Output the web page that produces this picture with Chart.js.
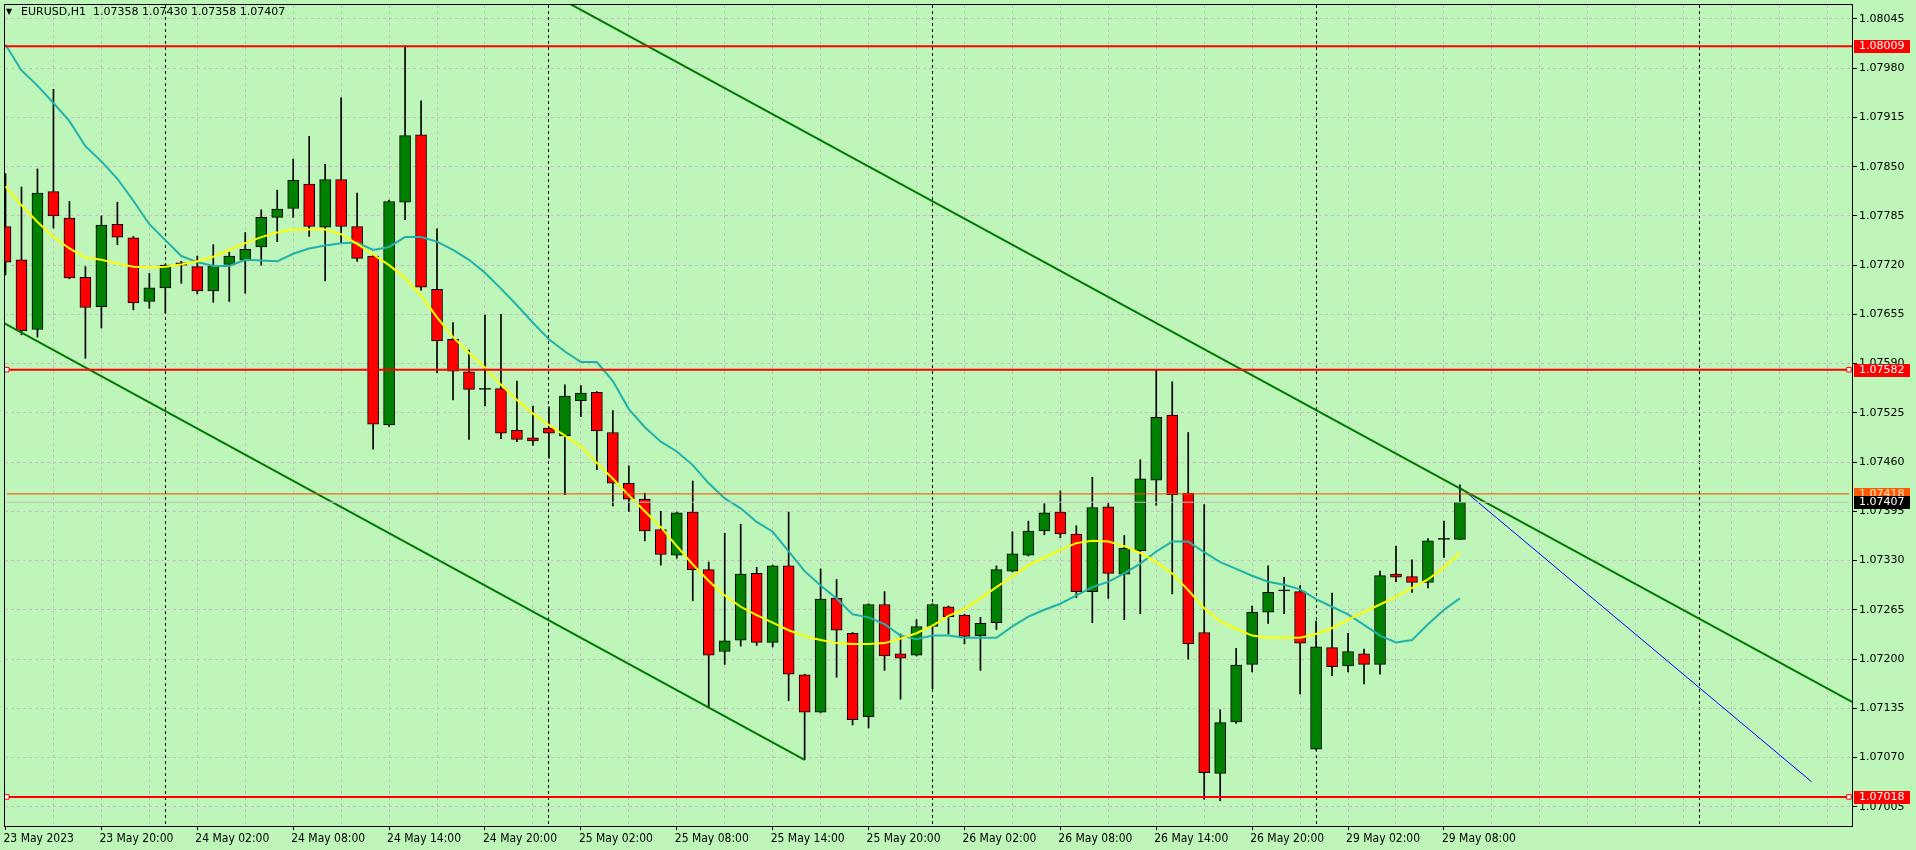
<!DOCTYPE html>
<html><head><meta charset="utf-8">
<script src="https://cdn.jsdelivr.net/npm/chart.js@4.4.0/dist/chart.umd.min.js"></script>
<style>html,body{margin:0;padding:0;background:#BEF5B9;overflow:hidden}</style>
</head><body>
<canvas id="c" width="1916" height="850"></canvas>
<script>
// ---- data (EURUSD H1, bar 0 = 23 May 2023 14:00) ----
const barIdx = Array.from({length: 92}, (_, i) => i);
const openP = [1.07771,1.07727,1.07635,1.07817,1.07782,1.07704,1.07665,1.07774,1.07756,1.07672,1.07690,1.07723,1.07718,1.07686,1.07721,1.07727,1.07744,1.07783,1.07795,1.07827,1.07770,1.07833,1.07771,1.07732,1.07509,1.07803,1.07892,1.07688,1.07622,1.07579,1.07556,1.07557,1.07502,1.07492,1.07505,1.07495,1.07541,1.07552,1.07499,1.07432,1.07411,1.07371,1.07337,1.07394,1.07318,1.07210,1.07225,1.07313,1.07222,1.07323,1.07179,1.07130,1.07280,1.07234,1.07124,1.07272,1.07207,1.07205,1.07243,1.07269,1.07258,1.07231,1.07248,1.07316,1.07337,1.07369,1.07394,1.07365,1.07289,1.07401,1.07312,1.07343,1.07436,1.07522,1.07419,1.07235,1.07049,1.07117,1.07193,1.07262,1.07290,1.07289,1.07081,1.07215,1.07191,1.07207,1.07193,1.07312,1.07309,1.07301,1.07358,1.07358];
const highP = [1.07841,1.07823,1.07847,1.07952,1.07804,1.07718,1.07785,1.07803,1.07758,1.07709,1.07721,1.07725,1.07732,1.07747,1.07737,1.07763,1.07793,1.07819,1.07860,1.07890,1.07853,1.07941,1.07815,1.07733,1.07806,1.08009,1.07937,1.07768,1.07644,1.07608,1.07654,1.07655,1.07567,1.07534,1.07533,1.07562,1.07561,1.07553,1.07528,1.07455,1.07419,1.07395,1.07394,1.07435,1.07328,1.07366,1.07378,1.07321,1.07324,1.07394,1.07180,1.07319,1.07305,1.07235,1.07273,1.07289,1.07233,1.07252,1.07273,1.07270,1.07259,1.07255,1.07323,1.07368,1.07382,1.07405,1.07422,1.07376,1.07440,1.07406,1.07363,1.07463,1.07582,1.07566,1.07499,1.07404,1.07133,1.07214,1.07270,1.07323,1.07308,1.07297,1.07250,1.07287,1.07234,1.07213,1.07316,1.07349,1.07331,1.07359,1.07382,1.07430];
const lowP = [1.07707,1.07628,1.07625,1.07769,1.07702,1.07597,1.07637,1.07747,1.07661,1.07663,1.07657,1.07696,1.07682,1.07671,1.07672,1.07683,1.07720,1.07751,1.07783,1.07758,1.07699,1.07749,1.07725,1.07477,1.07507,1.07780,1.07687,1.07578,1.07542,1.07490,1.07534,1.07491,1.07487,1.07482,1.07465,1.07417,1.07520,1.07450,1.07402,1.07395,1.07356,1.07324,1.07333,1.07277,1.07136,1.07193,1.07217,1.07218,1.07216,1.07145,1.07067,1.07129,1.07176,1.07113,1.07109,1.07185,1.07147,1.07204,1.07161,1.07233,1.07220,1.07185,1.07239,1.07315,1.07336,1.07364,1.07360,1.07281,1.07248,1.07280,1.07252,1.07260,1.07403,1.07286,1.07200,1.07015,1.07013,1.07115,1.07183,1.07247,1.07260,1.07154,1.07080,1.07178,1.07183,1.07167,1.07180,1.07302,1.07288,1.07294,1.07334,1.07358];
const closeP = [1.07724,1.07633,1.07815,1.07785,1.07703,1.07664,1.07773,1.07757,1.07670,1.07690,1.07720,1.07720,1.07686,1.07719,1.07732,1.07741,1.07783,1.07794,1.07832,1.07771,1.07833,1.07771,1.07729,1.07510,1.07804,1.07891,1.07691,1.07620,1.07580,1.07556,1.07556,1.07498,1.07490,1.07488,1.07498,1.07547,1.07551,1.07501,1.07432,1.07411,1.07369,1.07338,1.07393,1.07318,1.07205,1.07224,1.07312,1.07222,1.07323,1.07180,1.07130,1.07279,1.07238,1.07120,1.07272,1.07204,1.07201,1.07243,1.07272,1.07256,1.07230,1.07247,1.07318,1.07339,1.07369,1.07393,1.07365,1.07289,1.07400,1.07313,1.07346,1.07438,1.07519,1.07417,1.07220,1.07050,1.07116,1.07192,1.07262,1.07288,1.07290,1.07221,1.07216,1.07190,1.07210,1.07193,1.07310,1.07308,1.07301,1.07356,1.07358,1.07407];
const maFast = [1.07824,1.07799,1.07777,1.07757,1.07742,1.07730,1.07727,1.07722,1.07718,1.07717,1.07718,1.07721,1.07725,1.07731,1.07740,1.07749,1.07757,1.07763,1.07767,1.07767,1.07767,1.07761,1.07748,1.07734,1.07720,1.07703,1.07680,1.07651,1.07625,1.07604,1.07585,1.07562,1.07542,1.07524,1.07509,1.07495,1.07481,1.07459,1.07438,1.07416,1.07395,1.07374,1.07349,1.07325,1.07303,1.07284,1.07269,1.07258,1.07248,1.07238,1.07230,1.07225,1.07221,1.07220,1.07220,1.07221,1.07227,1.07234,1.07244,1.07257,1.07266,1.07280,1.07295,1.07309,1.07324,1.07334,1.07344,1.07353,1.07356,1.07355,1.07349,1.07340,1.07328,1.07313,1.07291,1.07267,1.07250,1.07240,1.07231,1.07228,1.07228,1.07228,1.07233,1.07241,1.07252,1.07262,1.07272,1.07282,1.07294,1.07305,1.07321,1.07340];
const maSlow = [1.08011,1.07977,1.07957,1.07934,1.07910,1.07877,1.07857,1.07834,1.07805,1.07774,1.07753,1.07732,1.07724,1.07719,1.07719,1.07727,1.07726,1.07725,1.07735,1.07742,1.07746,1.07749,1.07750,1.07740,1.07744,1.07757,1.07757,1.07751,1.07740,1.07727,1.07710,1.07689,1.07667,1.07644,1.07622,1.07606,1.07592,1.07592,1.07567,1.07530,1.07506,1.07487,1.07474,1.07456,1.07432,1.07412,1.07399,1.07381,1.07368,1.07342,1.07316,1.07297,1.07280,1.07259,1.07255,1.07246,1.07231,1.07226,1.07231,1.07231,1.07228,1.07228,1.07228,1.07243,1.07256,1.07265,1.07273,1.07284,1.07295,1.07302,1.07313,1.07326,1.07342,1.07355,1.07355,1.07341,1.07328,1.07319,1.07310,1.07302,1.07298,1.07292,1.07279,1.07269,1.07259,1.07245,1.07231,1.07222,1.07225,1.07246,1.07265,1.07280];
// trend lines: [bar index], [price]
const upperTrendX = [34, 116];
const upperTrendP = [1.08080, 1.07138];
const lowerTrendX = [-1, 50];
const lowerTrendP = [1.07654, 1.07067];
const blueLineX = [91, 113];
const blueLineP = [1.07427, 1.07038];
// horizontal levels
const levelValues = [1.08009, 1.07582, 1.07018, 1.07418, 1.07407];
const levelLabels = ['1.08009', '1.07582', '1.07018', '1.07418', '1.07407'];
// axes
const yTicks = [1.08045,1.07980,1.07915,1.07850,1.07785,1.07720,1.07655,1.07590,1.07525,1.07460,1.07395,1.07330,1.07265,1.07200,1.07135,1.07070,1.07005];
const yTickLabels = ['1.08045','1.07980','1.07915','1.07850','1.07785','1.07720','1.07655','1.07590','1.07525','1.07460','1.07395','1.07330','1.07265','1.07200','1.07135','1.07070','1.07005'];
const xTickIdx = [0,6,12,18,24,30,36,42,48,54,60,66,72,78,84,90];
const xTickLabels = ['23 May 2023','23 May 20:00','24 May 02:00','24 May 08:00','24 May 14:00','24 May 20:00','25 May 02:00','25 May 08:00','25 May 14:00','25 May 20:00','26 May 02:00','26 May 08:00','26 May 14:00','26 May 20:00','29 May 02:00','29 May 08:00'];
const daySeparators = [10, 34, 58, 82, 106];
const titleText = 'EURUSD,H1  1.07358 1.07430 1.07358 1.07407';

// ---- styles / layout ----
const BG = '#BEF5B9';
const GRID = '#C6BCC6';
const X_MIN = -0.03125, X_MAX = 115.53125;
const Y_MIN = 1.06979582, Y_MAX = 1.08063392;
const gridIdx = [];
for (let i = 0; i <= 114; i += 3) gridIdx.push(i);
const xAllTicks = [...new Set([...gridIdx, ...daySeparators])].sort((a, b) => a - b);

const bodyColors = barIdx.map(i => closeP[i] > openP[i] ? '#008000' : (closeP[i] < openP[i] ? '#FF0000' : '#000000'));
const pts = (xs, ps) => xs.map((x, k) => ({x: x, y: ps[k]}));
const hline = (v) => [{x: 0.08, y: v}, {x: 115.34, y: v}];

const levelStyle = [
  {color: '#FF0000', width: 2, marker: false, box: '#FF0000', text: '#FFFFFF'},
  {color: '#FF0000', width: 2, marker: true, box: '#FF0000', text: '#FFFFFF'},
  {color: '#FF0000', width: 2, marker: true, box: '#FF0000', text: '#FFFFFF'},
  {color: '#FF4500', width: 1, marker: false, box: '#FF5A00', text: '#FFE8D0'},
  {color: '#C0C0C0', width: 1, marker: false, box: '#000000', text: '#FFFFFF'}
];

const datasets = [
  {type: 'bar', label: 'wick', data: barIdx.map(i => ({x: i, y: [lowP[i], highP[i]]})),
   backgroundColor: '#000', borderWidth: 0, barThickness: 1, grouped: false, order: 20},
  {type: 'bar', label: 'body', data: barIdx.map(i => ({x: i, y: [openP[i], closeP[i]]})),
   backgroundColor: bodyColors, borderColor: '#000', borderWidth: 1, borderSkipped: false,
   barThickness: 11, minBarLength: 1, grouped: false, order: 19},
  {type: 'line', label: 'maSlow', data: barIdx.map(i => ({x: i, y: maSlow[i]})), borderColor: '#20B2AA', borderWidth: 2, pointRadius: 0, tension: 0, order: 4},
  {type: 'line', label: 'maFast', data: barIdx.map(i => ({x: i, y: maFast[i]})), borderColor: '#FFFF00', borderWidth: 2, pointRadius: 0, tension: 0, order: 3},
  {type: 'line', label: 'upper', data: pts(upperTrendX, upperTrendP), borderColor: '#007800', borderWidth: 2, pointRadius: 0, order: 2, clip: 0},
  {type: 'line', label: 'lower', data: pts(lowerTrendX, lowerTrendP), borderColor: '#007800', borderWidth: 2, pointRadius: 0, order: 2, clip: 0},
  {type: 'line', label: 'blue', data: pts(blueLineX, blueLineP), borderColor: '#0000FF', borderWidth: 1, pointRadius: 0, order: 2, clip: 0}
];
levelValues.forEach((v, k) => {
  const s = levelStyle[k];
  datasets.push({type: 'line', label: 'lvl' + k, data: k === 0 ? [{x: X_MIN, y: v}, {x: X_MAX, y: v}] : hline(v),
    borderColor: s.color, borderWidth: s.width, order: 1, clip: 0,
    pointStyle: 'rect', pointRadius: s.marker ? 3.2 : 0, pointBorderWidth: 1,
    pointBorderColor: '#FF0000', pointBackgroundColor: '#FFFFFF'});
});

const overlay = {
  id: 'overlay',
  beforeDraw(chart) {
    const {ctx, width, height} = chart;
    ctx.save(); ctx.fillStyle = BG; ctx.fillRect(0, 0, width, height); ctx.restore();
  },
  afterDraw(chart) {
    const {ctx, chartArea: a} = chart;
    const y = chart.scales.y;
    ctx.save();
    ctx.strokeStyle = '#000'; ctx.lineWidth = 1; ctx.setLineDash([]);
    ctx.strokeRect(a.left - 0.5, a.top - 0.5, a.right - a.left + 1, a.bottom - a.top + 1);
    ctx.font = '11px "DejaVu Sans"'; ctx.textBaseline = 'middle'; ctx.textAlign = 'left';
    levelValues.forEach((v, k) => {
      const s = levelStyle[k];
      const yy = Math.round(y.getPixelForValue(v));
      ctx.fillStyle = s.box;
      ctx.fillRect(a.right + 2, yy - 6, 56, 13);
      ctx.fillStyle = s.text;
      ctx.fillText(levelLabels[k], a.right + 7, yy + 0.5);
    });
    ctx.fillStyle = '#000';
    ctx.font = '8px "DejaVu Sans"';
    ctx.fillText('▼', 6, 12);
    ctx.font = '11px "DejaVu Sans"';
    ctx.fillText(titleText, 21, 12.5);
    ctx.restore();
  }
};

new Chart(document.getElementById('c'), {
  type: 'bar',
  data: {datasets},
  plugins: [overlay],
  options: {
    responsive: false, animation: false, devicePixelRatio: 1, events: [],
    layout: {padding: {left: 3, top: 1, right: 0, bottom: 0}},
    plugins: {legend: {display: false}, tooltip: {enabled: false}, title: {display: false}},
    scales: {
      x: {
        type: 'linear', min: X_MIN, max: X_MAX, offset: false,
        afterBuildTicks: s => { s.ticks = xAllTicks.map(v => ({value: v})); },
        afterFit: s => { s.height = 24; s.paddingLeft = 0; s.paddingRight = 0; s.paddingTop = 0; s.paddingBottom = 0; },
        border: {display: false, dash: [3, 3]},
        grid: {
          offset: false, lineWidth: 1, drawTicks: true, tickLength: 4, tickWidth: 1, tickBorderDash: [],
          color: c => (c.tick && daySeparators.includes(c.tick.value)) ? '#000000' : ((c.tick && c.tick.value === 0) ? 'rgba(0,0,0,0)' : GRID),
          tickColor: c => (c.tick && xTickIdx.includes(c.tick.value)) ? '#000000' : 'rgba(0,0,0,0)'
        },
        ticks: {
          autoSkip: false, maxRotation: 0, minRotation: 0, align: 'start', padding: 2, labelOffset: -2, color: '#000',
          font: {family: '"DejaVu Sans Condensed", "Liberation Sans Narrow", "DejaVu Sans"', size: 12},
          callback: v => { const k = xTickIdx.indexOf(v); return k >= 0 ? xTickLabels[k] : ''; }
        }
      },
      y: {
        type: 'linear', position: 'right', min: Y_MIN, max: Y_MAX,
        afterBuildTicks: s => { s.ticks = yTicks.map(v => ({value: v})); },
        afterFit: s => { s.width = 64; s.paddingTop = 0; s.paddingBottom = 0; s.paddingLeft = 0; s.paddingRight = 0; },
        border: {display: false, dash: [3, 3]},
        grid: {color: GRID, lineWidth: 1, drawTicks: true, tickLength: 5, tickWidth: 1, tickColor: '#000', tickBorderDash: []},
        ticks: {
          padding: 2, color: '#000', autoSkip: false,
          font: {family: '"DejaVu Sans"', size: 11},
          callback: v => { const k = yTicks.findIndex(t => Math.abs(t - v) < 1e-7); return k >= 0 ? yTickLabels[k] : ''; }
        }
      }
    }
  }
});
</script>
</body></html>
